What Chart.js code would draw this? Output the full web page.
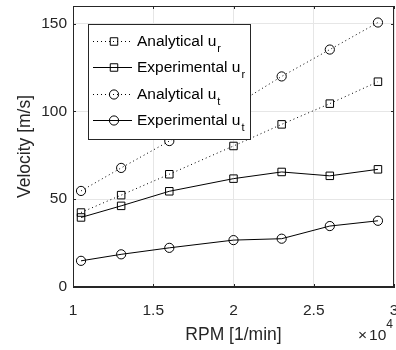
<!DOCTYPE html>
<html>
<head>
<meta charset="utf-8">
<script src="https://cdn.jsdelivr.net/npm/chart.js@4/dist/chart.umd.min.js"></script>
<style>
  html, body { margin: 0; padding: 0; background: #fff; }
  #wrap { width: 396px; height: 350px; }
</style>
</head>
<body>
<div id="wrap"><canvas id="myChart"></canvas></div>
<script>
// Data (RPM in 1/min, velocity in m/s)
const rpm = [10500, 13000, 16000, 20000, 23000, 26000, 29000];
const analyticalUr = [42.4, 52.3, 64.2, 80.3, 92.6, 104.4, 116.9];
const experimentalUr = [39.6, 46.2, 54.5, 61.7, 65.5, 63.3, 67.0];
const analyticalUt = [54.7, 67.8, 83.1, 103.0, 119.9, 135.2, 150.6];
const experimentalUt = [14.9, 18.6, 22.3, 26.7, 27.5, 34.7, 37.7];
const seriesNames = ['Analytical u', 'Experimental u', 'Analytical u', 'Experimental u'];
const seriesSubs = ['r', 'r', 't', 't'];
const xTicks = [10000, 15000, 20000, 25000, 30000];
const yTicks = [0, 50, 100, 150];

const FONT = '"Liberation Sans", Arial, Helvetica, sans-serif';
const INK = '#262626';

const toPoints = arr => rpm.map((r, i) => ({ x: r, y: arr[i] }));

function series(i, values, dashed, marker) {
  return {
    label: seriesNames[i] + seriesSubs[i],
    data: toPoints(values),
    borderColor: '#000',
    borderWidth: 1,
    borderDash: dashed ? [1, 3] : [],
    pointStyle: marker,
    pointRadius: marker === 'rect' ? 5.3 : 4.6,
    pointBorderWidth: 1,
    pointBorderColor: '#000',
    pointBackgroundColor: 'rgba(0,0,0,0)',
    tension: 0
  };
}

// no label overhang padding, so the axes fill the figure like MATLAB
function noOverhang(s) {
  s.paddingTop = 0;
  s.paddingBottom = 0;
  s.paddingLeft = 0;
  s.paddingRight = 0;
}

// Box around the axes with MATLAB style inward ticks
const axesBox = {
  id: 'axesBox',
  afterDatasetsDraw(chart) {
    const { ctx, chartArea: a, scales } = chart;
    ctx.save();
    ctx.strokeStyle = INK;
    ctx.lineWidth = 1;
    ctx.strokeRect(a.left + 0.5, a.top + 0.5, a.right - a.left - 1, a.bottom - a.top - 1);
    ctx.beginPath();
    xTicks.forEach(v => {
      const px = Math.round(scales.x.getPixelForValue(v)) + 0.5;
      ctx.moveTo(px, a.bottom); ctx.lineTo(px, a.bottom - 3);
      ctx.moveTo(px, a.top); ctx.lineTo(px, a.top + 3);
    });
    yTicks.forEach(v => {
      const py = Math.round(scales.y.getPixelForValue(v)) + 0.5;
      ctx.moveTo(a.left, py); ctx.lineTo(a.left + 3, py);
      ctx.moveTo(a.right, py); ctx.lineTo(a.right - 3, py);
    });
    ctx.stroke();

    // exponent label under the x axis
    ctx.fillStyle = INK;
    ctx.textBaseline = 'alphabetic';
    ctx.textAlign = 'right';
    ctx.font = '12px ' + FONT;
    const expW = ctx.measureText('4').width;
    ctx.fillText('4', a.right - 1, a.bottom + 41);
    ctx.font = '15.5px ' + FONT;
    const tenW = ctx.measureText('10').width;
    ctx.fillText('10', a.right - 1 - expW, a.bottom + 53);
    ctx.fillText('\u00d7', a.right - 3 - expW - tenW, a.bottom + 53);
    ctx.restore();
  }
};

// Legend drawn as a framed box in the upper left of the axes
const boxLegend = {
  id: 'boxLegend',
  afterDraw(chart) {
    const { ctx, chartArea: a } = chart;
    const x0 = a.left + 15, y0 = a.top + 18, w = 162, h = 115;
    ctx.save();
    ctx.fillStyle = '#fff';
    ctx.fillRect(x0, y0, w, h);
    ctx.strokeStyle = INK;
    ctx.lineWidth = 1;
    ctx.strokeRect(x0 + 0.5, y0 + 0.5, w, h);

    chart.data.datasets.forEach((ds, i) => {
      const cy = Math.round(y0 + 17 + i * 26.3) + 0.5;
      ctx.strokeStyle = '#000';
      ctx.beginPath();
      ctx.setLineDash(ds.borderDash);
      ctx.moveTo(x0 + 5, cy);
      ctx.lineTo(x0 + 44, cy);
      ctx.stroke();
      ctx.setLineDash([]);

      const mx = x0 + 26;
      ctx.beginPath();
      if (ds.pointStyle === 'rect') {
        const s = ds.pointRadius * Math.SQRT1_2;
        ctx.rect(mx - s, cy - s, 2 * s, 2 * s);
      } else {
        ctx.arc(mx, cy, ds.pointRadius, 0, Math.PI * 2);
      }
      ctx.stroke();

      ctx.fillStyle = '#000';
      ctx.textAlign = 'left';
      ctx.textBaseline = 'middle';
      ctx.font = '15.5px ' + FONT;
      ctx.fillText(seriesNames[i], x0 + 49, cy);
      const tw = ctx.measureText(seriesNames[i]).width;
      ctx.font = '11px ' + FONT;
      ctx.fillText(seriesSubs[i], x0 + 50 + tw, cy + 7);
    });
    ctx.restore();
  }
};

const ctx = document.getElementById('myChart').getContext('2d');
const myChart = new Chart(ctx, {
  type: 'line',
  data: {
    datasets: [
      series(0, analyticalUr, true, 'rect'),
      series(1, experimentalUr, false, 'rect'),
      series(2, analyticalUt, true, 'circle'),
      series(3, experimentalUt, false, 'circle')
    ]
  },
  options: {
    responsive: true,
    maintainAspectRatio: false,
    animation: false,
    layout: { autoPadding: false, padding: { top: 6, right: 2, left: 0, bottom: 0 } },
    plugins: { legend: { display: false }, tooltip: { enabled: false } },
    scales: {
      x: {
        type: 'linear',
        min: 10000,
        max: 30000,
        afterBuildTicks: s => { s.ticks = xTicks.map(v => ({ value: v })); },
        afterFit: s => { s.height = 63; noOverhang(s); },
        ticks: {
          color: INK,
          padding: 14,
          maxRotation: 0,
          font: { family: FONT, size: 15.5 },
          callback: v => String(v / 10000)
        },
        grid: { color: '#e6e6e6', drawTicks: false },
        border: { color: INK },
        title: {
          display: true,
          text: 'RPM [1/min]',
          color: INK,
          font: { family: FONT, size: 17.5 },
          padding: { top: 0, bottom: 4.5 }
        }
      },
      y: {
        min: 0,
        max: 160,
        afterBuildTicks: s => { s.ticks = yTicks.map(v => ({ value: v })); },
        afterFit: s => { s.width = 73; noOverhang(s); },
        ticks: {
          color: INK,
          padding: 6,
          font: { family: FONT, size: 15.5 }
        },
        grid: { color: '#e6e6e6', drawTicks: false },
        border: { color: INK },
        title: {
          display: true,
          text: 'Velocity [m/s]',
          color: INK,
          font: { family: FONT, size: 17.5 },
          padding: { top: 15, bottom: 0 }
        }
      }
    }
  },
  plugins: [axesBox, boxLegend]
});
</script>
</body>
</html>
